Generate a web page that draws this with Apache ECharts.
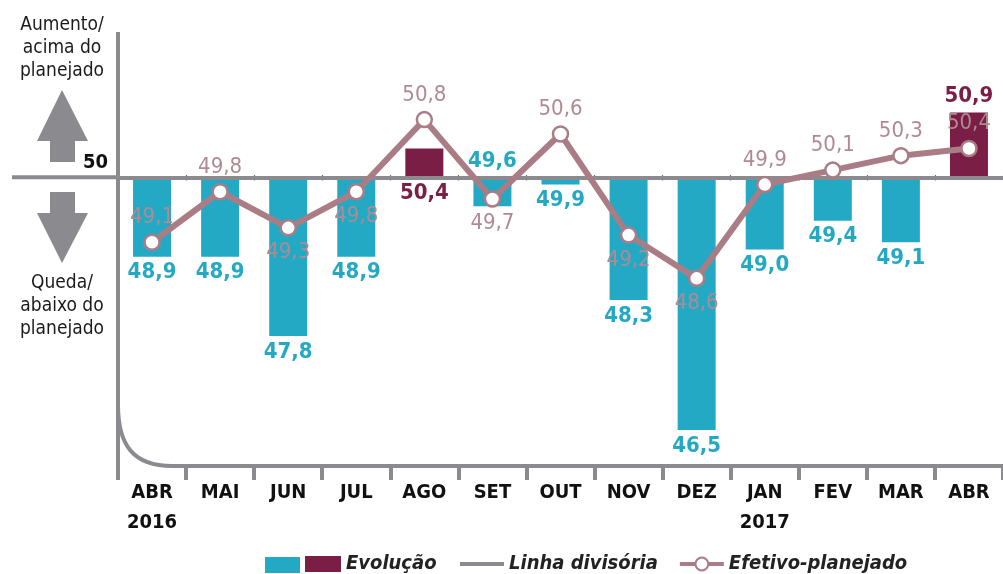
<!DOCTYPE html>
<html>
<head>
<meta charset="utf-8">
<script src="https://cdn.jsdelivr.net/npm/echarts@6/dist/echarts.min.js"></script>
<style>
  html, body { margin: 0; padding: 0; background: #fff; }
  #chart { width: 1003px; height: 574px; }
</style>
</head>
<body>
<div id="chart"></div>
<script>
// meses (rótulos do eixo)
const meses = ['ABR\n2016', 'MAI', 'JUN', 'JUL', 'AGO', 'SET', 'OUT', 'NOV', 'DEZ', 'JAN\n2017', 'FEV', 'MAR', 'ABR'];
// Evolução (barras, a partir da linha divisória)
const evolucao = [48.9, 48.9, 47.8, 48.9, 50.4, 49.6, 49.9, 48.3, 46.5, 49.0, 49.4, 49.1, 50.9];
// Efetivo-planejado (linha)
const efetivo = [49.1, 49.8, 49.3, 49.8, 50.8, 49.7, 50.6, 49.2, 48.6, 49.9, 50.1, 50.3, 50.4];
const DIVISORIA = 50;

// lado dos rótulos (estilo, não dado)
const ladoBarra = ['bottom', 'bottom', 'bottom', 'bottom', 'bottom', 'top', 'bottom', 'bottom', 'bottom', 'bottom', 'bottom', 'bottom', 'top'];
const ladoLinha = ['top', 'top', 'bottom', 'bottom', 'top', 'bottom', 'top', 'bottom', 'bottom', 'top', 'top', 'top', 'top'];

const C_CIANO = '#24a9c4';
const C_VINHO = '#7a1e46';
const C_LINHA = '#aa7d86';
const C_ROTULO = '#b08a92';
const C_EIXO = '#8b8b8f';
const FONTE = "'Liberation Sans Narrow', 'DejaVu Sans Condensed', 'Noto Sans', sans-serif";

const fmt = v => v.toFixed(1).replace('.', ',');

const GRID = { left: 118, right: 0, top: 33, bottom: 108 };

const chart = echarts.init(document.getElementById('chart'));

// barras empilhadas: base transparente + diferença até a divisória
const base = evolucao.map(v => Math.min(v, DIVISORIA));
const abaixo = evolucao.map((v, i) => v < DIVISORIA ? { value: +(DIVISORIA - v).toFixed(2), label: { position: ladoBarra[i] } } : '-');
const acima = evolucao.map((v, i) => v > DIVISORIA ? { value: +(v - DIVISORIA).toFixed(2), label: { position: ladoBarra[i] } } : '-');

const barLabel = color => ({
  show: true, distance: 5, color, fontFamily: FONTE, fontSize: 22, fontWeight: 'bold',
  formatter: p => fmt(evolucao[p.dataIndex]),
});

const legendText = { fontFamily: FONTE, fontSize: 20, fontWeight: 'bold', fontStyle: 'italic', color: '#222' };

chart.setOption({
  animation: false,
  grid: GRID,
  legend: [
    {
      data: [{ name: 'evoAbaixo', icon: 'rect' }], left: 260, top: 552, itemWidth: 35, itemHeight: 16,
      formatter: () => '', selectedMode: false,
    },
    {
      data: [{ name: 'Evolução', icon: 'rect' }], left: 300, top: 549, itemWidth: 36, itemHeight: 16, selectedMode: false,
      textStyle: legendText,
    },
    {
      data: [
        { name: 'Linha divisória', icon: 'path://M0,0 L44,0 L44,4 L0,4 Z' },
        { name: 'Efetivo-planejado', lineStyle: { width: 4 } },
      ],
      left: 455, top: 549, itemWidth: 44, itemHeight: 16, itemGap: 20, selectedMode: false,
      textStyle: legendText,
    },
  ],
  xAxis: [
    {
      type: 'category', data: meses,
      axisLine: { show: false },
      axisTick: { show: true, interval: 0, length: 14, lineStyle: { color: C_EIXO, width: 4 } },
      axisLabel: { interval: 0, margin: 12, color: '#111', fontFamily: FONTE, fontSize: 20, fontWeight: 'bold', lineHeight: 30 },
    },
    {
      type: 'category', data: meses, position: 'bottom', offset: 0,
      axisLine: { show: false },
      axisTick: { show: true, interval: 0, length: 5, lineStyle: { color: '#222', width: 1.2 } },
      axisLabel: { show: false },
    },
  ],
  yAxis: {
    type: 'value', min: 46, max: 52,
    axisLine: { show: false }, axisTick: { show: false }, axisLabel: { show: false }, splitLine: { show: false },
  },
  series: [
    {
      name: 'base', type: 'bar', stack: 'evo', data: base, barWidth: 38,
      itemStyle: { color: 'transparent' }, silent: true, z: 2,
    },
    {
      name: 'evoAbaixo', type: 'bar', stack: 'evo', data: abaixo, barWidth: 38,
      itemStyle: { color: C_CIANO }, label: barLabel(C_CIANO), z: 2,
    },
    {
      name: 'Evolução', type: 'bar', stack: 'evo', data: acima, barWidth: 38,
      itemStyle: { color: C_VINHO }, label: barLabel(C_VINHO), z: 2,
    },
    {
      name: 'Linha divisória', type: 'line', data: [], symbol: 'none',
      itemStyle: { color: C_EIXO }, lineStyle: { color: C_EIXO, width: 4 }, z: 3,
      markLine: {
        silent: true, symbol: 'none', label: { show: false },
        lineStyle: { color: C_EIXO, width: 4, type: 'solid' },
        data: [{ yAxis: DIVISORIA }],
      },
    },
    {
      name: 'Efetivo-planejado', type: 'line', z: 5,
      data: efetivo.map((v, i) => ({ value: v, label: { position: ladoLinha[i] } })),
      symbol: 'circle', symbolSize: 15,
      lineStyle: { color: C_LINHA, width: 6 },
      itemStyle: { color: '#fff', borderColor: C_LINHA, borderWidth: 2.5 },
      label: {
        show: true, distance: 5, color: C_ROTULO, fontFamily: FONTE, fontSize: 22,
        formatter: p => fmt(p.value),
      },
    },
  ],
});

// posição da divisória em pixels, pela escala do eixo
const y50 = chart.convertToPixel({ yAxisIndex: 0 }, DIVISORIA);
const gridBottomY = 574 - GRID.bottom;

chart.setOption({
  xAxis: [{}, { offset: -(gridBottomY - y50) - 2 }],
  graphic: [
    // eixo com canto arredondado
    {
      type: 'line', z: 1, silent: true,
      shape: { x1: 118, y1: 32, x2: 118, y2: 480 },
      style: { stroke: C_EIXO, lineWidth: 4 },
    },
    {
      type: 'bezierCurve', z: 1, silent: true,
      shape: { x1: 118, y1: 405, cpx1: 118, cpy1: 446, cpx2: 134, cpy2: 466, x2: 172, y2: 466 },
      style: { stroke: C_EIXO, lineWidth: 4, fill: null },
    },
    {
      type: 'line', z: 1, silent: true,
      shape: { x1: 171, y1: 466, x2: 1003, y2: 466 },
      style: { stroke: C_EIXO, lineWidth: 4 },
    },
    // prolongamento da divisória à esquerda
    {
      type: 'line', z: 1, silent: true,
      shape: { x1: 12, y1: y50, x2: 118, y2: y50 },
      style: { stroke: C_EIXO, lineWidth: 4 },
    },
    {
      type: 'text', x: 108, y: y50 - 5, silent: true,
      style: { text: '50', align: 'right', verticalAlign: 'bottom', font: `bold 20px ${FONTE}`, fill: '#111' },
    },
    // seta para cima
    {
      type: 'polygon', silent: true,
      shape: { points: [[62, 90], [37, 141], [50, 141], [50, 162], [75, 162], [75, 141], [88, 141]] },
      style: { fill: C_EIXO },
    },
    // seta para baixo
    {
      type: 'polygon', silent: true,
      shape: { points: [[50, 192], [75, 192], [75, 213], [88, 213], [62, 263], [37, 213], [50, 213]] },
      style: { fill: C_EIXO },
    },
    {
      type: 'text', x: 62, y: 14, silent: true,
      style: { text: 'Aumento/\nacima do\nplanejado', align: 'center', lineHeight: 23, font: `19px ${FONTE}`, fill: '#1a1a1a' },
    },
    {
      type: 'text', x: 62, y: 272, silent: true,
      style: { text: 'Queda/\nabaixo do\nplanejado', align: 'center', lineHeight: 23, font: `19px ${FONTE}`, fill: '#1a1a1a' },
    },
  ],
});
</script>
</body>
</html>
